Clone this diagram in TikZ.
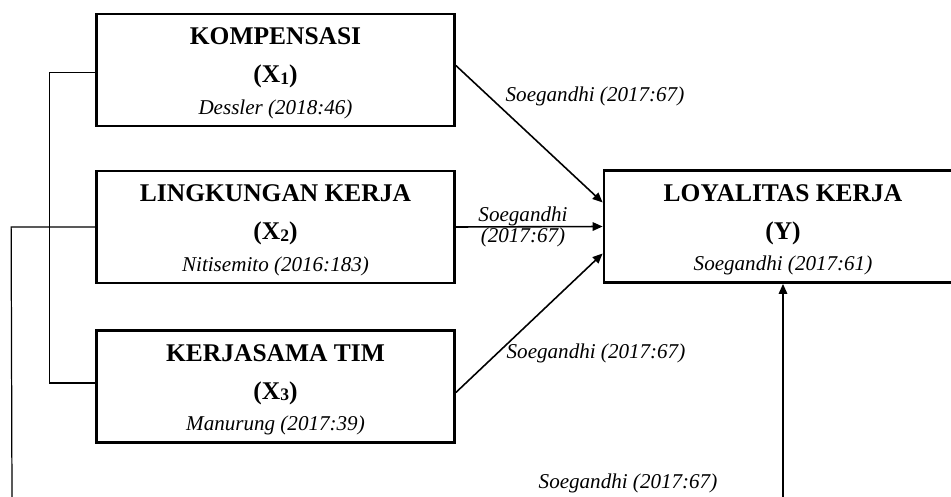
\documentclass[tikz,border=0pt]{standalone}
\usepackage{fontspec}
\setmainfont{Liberation Serif}
\usetikzlibrary{arrows.meta}
\newcommand{\varsub}[1]{\raisebox{-0.8pt}{\fontsize{10}{10}\selectfont #1}}

\begin{document}
\begin{tikzpicture}[x=0.02cm,y=-0.02cm,
            varbox/.style={draw,line width=1.6pt,minimum width=7.16cm,minimum height=2.24cm,align=center,inner sep=0pt,font=\fontsize{14.5}{20}\selectfont\bfseries},
            ref/.style={font=\fontsize{12}{14}\selectfont\itshape},
            link/.style={line width=0.9pt,-{Triangle[length=0.2cm,width=0.17cm]}},
            bracket/.style={line width=0.7pt}]
            \useasboundingbox (0,0) rectangle (951,497);
            \node (kom) at (275.5,70) [varbox] {\rule{0pt}{13.5pt}KOMPENSASI\\[1.5pt] (X\varsub{1})\\[-2pt] {\fontsize{12}{20}\selectfont\mdseries\itshape Dessler (2018:46)}};
            \node (lin) at (275.5,227) [varbox] {\rule{0pt}{13.5pt}LINGKUNGAN KERJA\\[1.5pt] (X\varsub{2})\\[-2pt] {\fontsize{12}{20}\selectfont\mdseries\itshape Nitisemito (2016:183)}};
            \node (ker) at (275.5,386.5) [varbox] {\rule{0pt}{13.5pt}KERJASAMA TIM\\[1.5pt] (X\varsub{3})\\[-2pt] {\fontsize{12}{20}\selectfont\mdseries\itshape Manurung (2017:39)}};
            \node (loy) at (783,226.5) [varbox] {\rule{0pt}{13.5pt}LOYALITAS KERJA\\[1.5pt] (Y)\\[-2pt] {\fontsize{12}{20}\selectfont\mdseries\itshape Soegandhi (2017:61)}};
            \coordinate (lfoot) at (12,500);
            \coordinate (yfoot) at (783,500);
            \draw[link] ([yshift=0.09cm]kom.east) -- ([yshift=0.48cm]loy.west);
            \draw[link] (lin.east) -- (loy.west);
            \draw[link] ([yshift=-0.12cm]ker.east) -- ([yshift=-0.54cm]loy.west);
            \draw[link] (yfoot) -- (loy.south);
            \draw[bracket] ([yshift=-0.05cm]kom.west) -- ++(-46,0) |- ([yshift=0.07cm]ker.west);
            \draw[bracket] (lin.west) -- ++(-84,0) -- (lfoot);
            \node (r1) at (595,96) [ref] {Soegandhi (2017:67)};
            \node (r2) at (523,227) [ref,align=center] {Soegandhi\\[-2pt](2017:67)};
            \node (r3) at (596,353) [ref] {Soegandhi (2017:67)};
            \node (r4) at (628,483) [ref] {Soegandhi (2017:67)};
        \end{tikzpicture}
\end{document}
